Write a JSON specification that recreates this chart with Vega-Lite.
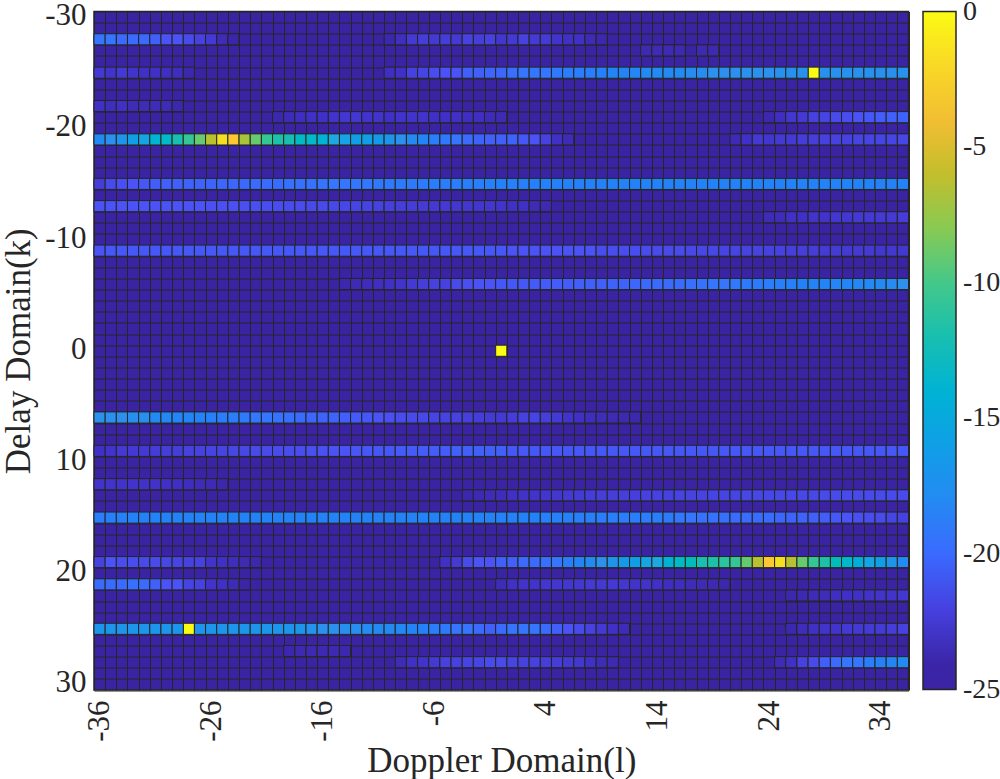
{"$schema":"https://vega.github.io/schema/vega-lite/v6.json","autosize":{"type":"none"},"padding":{"left":94,"top":11.5,"right":91,"bottom":89},"width":814.5,"height":678.5,"background":"white",
"data":{"values":[
{"k":0,"l":0,"v":0},
{"k":-25,"l":28,"v":0},{"k":25,"l":-28,"v":0},
{"k":-28,"l":-36,"v":-19.5},{"k":-28,"l":-35,"v":-19.5},{"k":-28,"l":-34,"v":-20},{"k":-28,"l":-33,"v":-20},{"k":-28,"l":-32,"v":-20},{"k":-28,"l":-31,"v":-20.5},{"k":-28,"l":-30,"v":-21},{"k":-28,"l":-29,"v":-21},{"k":-28,"l":-28,"v":-21.5},{"k":-28,"l":-27,"v":-22},{"k":-28,"l":-26,"v":-22.5},{"k":-28,"l":-25,"v":-23.5},{"k":-28,"l":-24,"v":-24},
{"k":-28,"l":-10,"v":-23.8},{"k":-28,"l":-9,"v":-23.2},{"k":-28,"l":-8,"v":-22.5},{"k":-28,"l":-7,"v":-22.3},{"k":-28,"l":-6,"v":-22.5},{"k":-28,"l":-5,"v":-22.3},{"k":-28,"l":-4,"v":-22.5},{"k":-28,"l":-3,"v":-22},{"k":-28,"l":-2,"v":-22.2},{"k":-28,"l":-1,"v":-22},{"k":-28,"l":0,"v":-22.7},{"k":-28,"l":1,"v":-22.5},{"k":-28,"l":2,"v":-22},{"k":-28,"l":3,"v":-22.4},{"k":-28,"l":4,"v":-22.4},{"k":-28,"l":5,"v":-22.8},{"k":-28,"l":6,"v":-23},{"k":-28,"l":7,"v":-23},{"k":-28,"l":8,"v":-23.6},{"k":-28,"l":9,"v":-23.8},
{"k":-27,"l":13,"v":-23.7},{"k":-27,"l":14,"v":-23.6},{"k":-27,"l":15,"v":-23.6},{"k":-27,"l":16,"v":-23.7},{"k":-27,"l":18,"v":-23.7},{"k":-27,"l":19,"v":-23.7},
{"k":-25,"l":-36,"v":-22.5},{"k":-25,"l":-35,"v":-22.8},{"k":-25,"l":-34,"v":-22.5},{"k":-25,"l":-33,"v":-22.8},{"k":-25,"l":-32,"v":-23},{"k":-25,"l":-31,"v":-23},{"k":-25,"l":-30,"v":-23.2},{"k":-25,"l":-29,"v":-23.3},{"k":-25,"l":-28,"v":-23.8},
{"k":-25,"l":-10,"v":-23.2},{"k":-25,"l":-9,"v":-23},{"k":-25,"l":-8,"v":-22},{"k":-25,"l":-7,"v":-21.8},{"k":-25,"l":-6,"v":-21.3},{"k":-25,"l":-5,"v":-21},{"k":-25,"l":-4,"v":-21},{"k":-25,"l":-3,"v":-20.5},{"k":-25,"l":-2,"v":-20.5},{"k":-25,"l":-1,"v":-20.2},{"k":-25,"l":0,"v":-20.2},{"k":-25,"l":1,"v":-19.8},{"k":-25,"l":2,"v":-19.5},{"k":-25,"l":3,"v":-19.5},{"k":-25,"l":4,"v":-19.5},{"k":-25,"l":5,"v":-19.3},{"k":-25,"l":6,"v":-19},{"k":-25,"l":7,"v":-19},{"k":-25,"l":8,"v":-19},{"k":-25,"l":9,"v":-18.8},{"k":-25,"l":10,"v":-18.5},{"k":-25,"l":11,"v":-18.5},{"k":-25,"l":12,"v":-18.2},{"k":-25,"l":13,"v":-18},{"k":-25,"l":14,"v":-18},{"k":-25,"l":15,"v":-18},{"k":-25,"l":16,"v":-18},{"k":-25,"l":17,"v":-17.8},{"k":-25,"l":18,"v":-17.8},{"k":-25,"l":19,"v":-17.5},{"k":-25,"l":20,"v":-17.5},{"k":-25,"l":21,"v":-17.5},{"k":-25,"l":22,"v":-17.5},{"k":-25,"l":23,"v":-17.5},{"k":-25,"l":24,"v":-17.5},{"k":-25,"l":25,"v":-17.3},{"k":-25,"l":26,"v":-17.3},{"k":-25,"l":27,"v":-17.3},{"k":-25,"l":29,"v":-17.3},{"k":-25,"l":30,"v":-17.3},{"k":-25,"l":31,"v":-17.3},{"k":-25,"l":32,"v":-17.3},{"k":-25,"l":33,"v":-17.3},{"k":-25,"l":34,"v":-17.3},{"k":-25,"l":35,"v":-17.3},{"k":-25,"l":36,"v":-17.3},
{"k":-22,"l":-36,"v":-23},{"k":-22,"l":-35,"v":-23.3},{"k":-22,"l":-34,"v":-23},{"k":-22,"l":-33,"v":-23.5},{"k":-22,"l":-32,"v":-23.5},{"k":-22,"l":-31,"v":-23.5},{"k":-22,"l":-30,"v":-23.5},{"k":-22,"l":-29,"v":-23.8},
{"k":-21,"l":-20,"v":-23.8},{"k":-21,"l":-19,"v":-23.5},{"k":-21,"l":-18,"v":-23.2},{"k":-21,"l":-17,"v":-23},{"k":-21,"l":-16,"v":-23},{"k":-21,"l":-15,"v":-22.8},{"k":-21,"l":-14,"v":-22.6},{"k":-21,"l":-13,"v":-22.6},{"k":-21,"l":-12,"v":-22.8},{"k":-21,"l":-11,"v":-22.8},{"k":-21,"l":-10,"v":-23},{"k":-21,"l":-9,"v":-22.8},{"k":-21,"l":-8,"v":-22.8},{"k":-21,"l":-7,"v":-22.8},{"k":-21,"l":-6,"v":-23},{"k":-21,"l":-5,"v":-23},{"k":-21,"l":-4,"v":-23},{"k":-21,"l":-3,"v":-23.2},{"k":-21,"l":-2,"v":-23.2},{"k":-21,"l":-1,"v":-23.5},{"k":-21,"l":0,"v":-23.6},
{"k":-21,"l":24,"v":-23.8},{"k":-21,"l":25,"v":-23.2},{"k":-21,"l":26,"v":-22.6},{"k":-21,"l":27,"v":-22.5},{"k":-21,"l":28,"v":-22},{"k":-21,"l":29,"v":-21.8},{"k":-21,"l":30,"v":-21.5},{"k":-21,"l":31,"v":-21.3},{"k":-21,"l":32,"v":-21},{"k":-21,"l":33,"v":-20.8},{"k":-21,"l":34,"v":-20.6},{"k":-21,"l":35,"v":-20.5},{"k":-21,"l":36,"v":-20.3},
{"k":-19,"l":-36,"v":-18},{"k":-19,"l":-35,"v":-17.5},{"k":-19,"l":-34,"v":-17},{"k":-19,"l":-33,"v":-16},{"k":-19,"l":-32,"v":-15.5},{"k":-19,"l":-31,"v":-13.8},{"k":-19,"l":-30,"v":-13.3},{"k":-19,"l":-29,"v":-12},{"k":-19,"l":-28,"v":-10.5},{"k":-19,"l":-27,"v":-9},{"k":-19,"l":-26,"v":-6.5},{"k":-19,"l":-25,"v":-1.5},{"k":-19,"l":-24,"v":-3},{"k":-19,"l":-23,"v":-7},{"k":-19,"l":-22,"v":-9},{"k":-19,"l":-21,"v":-10.5},{"k":-19,"l":-20,"v":-11.5},{"k":-19,"l":-19,"v":-12},{"k":-19,"l":-18,"v":-13},{"k":-19,"l":-17,"v":-13.3},{"k":-19,"l":-16,"v":-14},{"k":-19,"l":-15,"v":-15},{"k":-19,"l":-14,"v":-15.5},{"k":-19,"l":-13,"v":-16},{"k":-19,"l":-12,"v":-16},{"k":-19,"l":-11,"v":-16.5},{"k":-19,"l":-10,"v":-17},{"k":-19,"l":-9,"v":-17.5},{"k":-19,"l":-8,"v":-18},{"k":-19,"l":-7,"v":-18.5},{"k":-19,"l":-6,"v":-19},{"k":-19,"l":-5,"v":-19.3},{"k":-19,"l":-4,"v":-19.5},{"k":-19,"l":-3,"v":-20},{"k":-19,"l":-2,"v":-20.3},{"k":-19,"l":-1,"v":-20.5},{"k":-19,"l":0,"v":-20.5},{"k":-19,"l":1,"v":-20.3},{"k":-19,"l":2,"v":-20.8},{"k":-19,"l":3,"v":-21},{"k":-19,"l":4,"v":-22},{"k":-19,"l":5,"v":-23},{"k":-19,"l":6,"v":-23.5},
{"k":-19,"l":21,"v":-23.6},{"k":-19,"l":22,"v":-23},{"k":-19,"l":23,"v":-22.5},{"k":-19,"l":24,"v":-22.7},{"k":-19,"l":25,"v":-22.5},{"k":-19,"l":26,"v":-22.5},{"k":-19,"l":27,"v":-22.3},{"k":-19,"l":28,"v":-22.2},{"k":-19,"l":29,"v":-22},{"k":-19,"l":30,"v":-22},{"k":-19,"l":31,"v":-22},{"k":-19,"l":32,"v":-21.8},{"k":-19,"l":33,"v":-21.8},{"k":-19,"l":34,"v":-21.8},{"k":-19,"l":35,"v":-21.8},{"k":-19,"l":36,"v":-21.7},
{"k":-15,"l":-36,"v":-22.3},{"k":-15,"l":-35,"v":-21.5},{"k":-15,"l":-34,"v":-21.2},{"k":-15,"l":-33,"v":-21},{"k":-15,"l":-32,"v":-20.8},{"k":-15,"l":-31,"v":-20.6},{"k":-15,"l":-30,"v":-20.5},{"k":-15,"l":-29,"v":-20.5},{"k":-15,"l":-28,"v":-20.4},{"k":-15,"l":-27,"v":-20.3},{"k":-15,"l":-26,"v":-20.3},{"k":-15,"l":-25,"v":-20.2},{"k":-15,"l":-24,"v":-20.2},{"k":-15,"l":-23,"v":-20.1},{"k":-15,"l":-22,"v":-20},{"k":-15,"l":-21,"v":-20},{"k":-15,"l":-20,"v":-19.9},{"k":-15,"l":-19,"v":-19.8},{"k":-15,"l":-18,"v":-19.8},{"k":-15,"l":-17,"v":-19.7},{"k":-15,"l":-16,"v":-19.6},{"k":-15,"l":-15,"v":-19.5},{"k":-15,"l":-14,"v":-19.5},{"k":-15,"l":-13,"v":-19.4},{"k":-15,"l":-12,"v":-19.4},{"k":-15,"l":-11,"v":-19.3},{"k":-15,"l":-10,"v":-19.3},{"k":-15,"l":-9,"v":-19.2},{"k":-15,"l":-8,"v":-19.2},{"k":-15,"l":-7,"v":-19.1},{"k":-15,"l":-6,"v":-19},{"k":-15,"l":-5,"v":-19},{"k":-15,"l":-4,"v":-19},{"k":-15,"l":-3,"v":-18.9},{"k":-15,"l":-2,"v":-18.9},{"k":-15,"l":-1,"v":-18.8},{"k":-15,"l":0,"v":-18.8},{"k":-15,"l":1,"v":-18.8},{"k":-15,"l":2,"v":-18.8},{"k":-15,"l":3,"v":-18.8},{"k":-15,"l":4,"v":-18.7},{"k":-15,"l":5,"v":-18.7},{"k":-15,"l":6,"v":-18.7},{"k":-15,"l":7,"v":-18.7},{"k":-15,"l":8,"v":-18.7},{"k":-15,"l":9,"v":-18.7},{"k":-15,"l":10,"v":-18.6},{"k":-15,"l":11,"v":-18.6},{"k":-15,"l":12,"v":-18.6},{"k":-15,"l":13,"v":-18.6},{"k":-15,"l":14,"v":-18.6},{"k":-15,"l":15,"v":-18.6},{"k":-15,"l":16,"v":-18.6},{"k":-15,"l":17,"v":-18.6},{"k":-15,"l":18,"v":-18.6},{"k":-15,"l":19,"v":-18.6},{"k":-15,"l":20,"v":-18.6},{"k":-15,"l":21,"v":-18.6},{"k":-15,"l":22,"v":-18.6},{"k":-15,"l":23,"v":-18.6},{"k":-15,"l":24,"v":-18.6},{"k":-15,"l":25,"v":-18.6},{"k":-15,"l":26,"v":-18.6},{"k":-15,"l":27,"v":-18.6},{"k":-15,"l":28,"v":-18.6},{"k":-15,"l":29,"v":-18.6},{"k":-15,"l":30,"v":-18.6},{"k":-15,"l":31,"v":-18.6},{"k":-15,"l":32,"v":-18.6},{"k":-15,"l":33,"v":-18.6},{"k":-15,"l":34,"v":-18.6},{"k":-15,"l":35,"v":-18.6},{"k":-15,"l":36,"v":-18.6},
{"k":-13,"l":-36,"v":-21},{"k":-13,"l":-35,"v":-21},{"k":-13,"l":-34,"v":-21},{"k":-13,"l":-33,"v":-21},{"k":-13,"l":-32,"v":-21},{"k":-13,"l":-31,"v":-21},{"k":-13,"l":-30,"v":-21},{"k":-13,"l":-29,"v":-21},{"k":-13,"l":-28,"v":-21},{"k":-13,"l":-27,"v":-21},{"k":-13,"l":-26,"v":-21.1},{"k":-13,"l":-25,"v":-21.1},{"k":-13,"l":-24,"v":-21.1},{"k":-13,"l":-23,"v":-21.2},{"k":-13,"l":-22,"v":-21.2},{"k":-13,"l":-21,"v":-21.3},{"k":-13,"l":-20,"v":-21.3},{"k":-13,"l":-19,"v":-21.4},{"k":-13,"l":-18,"v":-21.4},{"k":-13,"l":-17,"v":-21.5},{"k":-13,"l":-16,"v":-21.5},{"k":-13,"l":-15,"v":-21.6},{"k":-13,"l":-14,"v":-21.7},{"k":-13,"l":-13,"v":-21.8},{"k":-13,"l":-12,"v":-21.9},{"k":-13,"l":-11,"v":-22},{"k":-13,"l":-10,"v":-22.1},{"k":-13,"l":-9,"v":-22.2},{"k":-13,"l":-8,"v":-22.3},{"k":-13,"l":-7,"v":-22.4},{"k":-13,"l":-6,"v":-22.5},{"k":-13,"l":-5,"v":-22.5},{"k":-13,"l":-4,"v":-22.6},{"k":-13,"l":-3,"v":-22.6},{"k":-13,"l":-2,"v":-22.7},{"k":-13,"l":-1,"v":-22.7},{"k":-13,"l":0,"v":-22.8},{"k":-13,"l":1,"v":-23},{"k":-13,"l":2,"v":-23},{"k":-13,"l":3,"v":-23.5},{"k":-13,"l":4,"v":-23.7},
{"k":-12,"l":24,"v":-23.5},{"k":-12,"l":25,"v":-23.4},{"k":-12,"l":26,"v":-23},{"k":-12,"l":27,"v":-23},{"k":-12,"l":28,"v":-22.8},{"k":-12,"l":29,"v":-22.8},{"k":-12,"l":30,"v":-22.6},{"k":-12,"l":31,"v":-22.6},{"k":-12,"l":32,"v":-22.5},{"k":-12,"l":33,"v":-22.5},{"k":-12,"l":34,"v":-22.5},{"k":-12,"l":35,"v":-22.5},{"k":-12,"l":36,"v":-22.3},
{"k":-9,"l":-36,"v":-21},{"k":-9,"l":-35,"v":-20.8},{"k":-9,"l":-34,"v":-20.8},{"k":-9,"l":-33,"v":-20.8},{"k":-9,"l":-32,"v":-20.8},{"k":-9,"l":-31,"v":-20.8},{"k":-9,"l":-30,"v":-20.8},{"k":-9,"l":-29,"v":-20.8},{"k":-9,"l":-28,"v":-20.8},{"k":-9,"l":-27,"v":-20.8},{"k":-9,"l":-26,"v":-20.8},{"k":-9,"l":-25,"v":-20.8},{"k":-9,"l":-24,"v":-20.8},{"k":-9,"l":-23,"v":-20.8},{"k":-9,"l":-22,"v":-20.8},{"k":-9,"l":-21,"v":-20.8},{"k":-9,"l":-20,"v":-20.8},{"k":-9,"l":-19,"v":-20.8},{"k":-9,"l":-18,"v":-20.8},{"k":-9,"l":-17,"v":-20.8},{"k":-9,"l":-16,"v":-20.8},{"k":-9,"l":-15,"v":-20.8},{"k":-9,"l":-14,"v":-20.8},{"k":-9,"l":-13,"v":-20.8},{"k":-9,"l":-12,"v":-20.8},{"k":-9,"l":-11,"v":-20.8},{"k":-9,"l":-10,"v":-20.8},{"k":-9,"l":-9,"v":-20.8},{"k":-9,"l":-8,"v":-20.8},{"k":-9,"l":-7,"v":-20.8},{"k":-9,"l":-6,"v":-20.8},{"k":-9,"l":-5,"v":-20.8},{"k":-9,"l":-4,"v":-20.8},{"k":-9,"l":-3,"v":-20.8},{"k":-9,"l":-2,"v":-20.8},{"k":-9,"l":-1,"v":-20.8},{"k":-9,"l":0,"v":-20.8},{"k":-9,"l":1,"v":-21},{"k":-9,"l":2,"v":-21},{"k":-9,"l":3,"v":-21},{"k":-9,"l":4,"v":-21},{"k":-9,"l":5,"v":-21},{"k":-9,"l":6,"v":-21},{"k":-9,"l":7,"v":-21},{"k":-9,"l":8,"v":-21},{"k":-9,"l":9,"v":-21.3},{"k":-9,"l":10,"v":-21.3},{"k":-9,"l":11,"v":-21.3},{"k":-9,"l":12,"v":-21.3},{"k":-9,"l":13,"v":-21.4},{"k":-9,"l":14,"v":-21.5},{"k":-9,"l":15,"v":-21.5},{"k":-9,"l":16,"v":-21.5},{"k":-9,"l":17,"v":-21.6},{"k":-9,"l":18,"v":-21.7},{"k":-9,"l":19,"v":-21.7},{"k":-9,"l":20,"v":-21.8},{"k":-9,"l":21,"v":-21.8},{"k":-9,"l":22,"v":-21.9},{"k":-9,"l":23,"v":-21.9},{"k":-9,"l":24,"v":-22},{"k":-9,"l":25,"v":-22},{"k":-9,"l":26,"v":-22.1},{"k":-9,"l":27,"v":-22.2},{"k":-9,"l":28,"v":-22.3},{"k":-9,"l":29,"v":-22.4},{"k":-9,"l":30,"v":-22.4},{"k":-9,"l":31,"v":-22.5},{"k":-9,"l":32,"v":-22.5},{"k":-9,"l":33,"v":-22.5},{"k":-9,"l":34,"v":-22.6},{"k":-9,"l":35,"v":-22.6},{"k":-9,"l":36,"v":-22.6},
{"k":-6,"l":-14,"v":-23.8},{"k":-6,"l":-13,"v":-23.6},{"k":-6,"l":-12,"v":-23.4},{"k":-6,"l":-11,"v":-23.2},{"k":-6,"l":-10,"v":-23},{"k":-6,"l":-9,"v":-22.8},{"k":-6,"l":-8,"v":-22.5},{"k":-6,"l":-7,"v":-22.2},{"k":-6,"l":-6,"v":-22},{"k":-6,"l":-5,"v":-22},{"k":-6,"l":-4,"v":-21.5},{"k":-6,"l":-3,"v":-21.2},{"k":-6,"l":-2,"v":-21},{"k":-6,"l":-1,"v":-21},{"k":-6,"l":0,"v":-20.8},{"k":-6,"l":1,"v":-20.8},{"k":-6,"l":2,"v":-20.8},{"k":-6,"l":3,"v":-20.7},{"k":-6,"l":4,"v":-20.7},{"k":-6,"l":5,"v":-20.6},{"k":-6,"l":6,"v":-20.6},{"k":-6,"l":7,"v":-20.5},{"k":-6,"l":8,"v":-20.5},{"k":-6,"l":9,"v":-20.5},{"k":-6,"l":10,"v":-20.3},{"k":-6,"l":11,"v":-20.3},{"k":-6,"l":12,"v":-20.2},{"k":-6,"l":13,"v":-20.1},{"k":-6,"l":14,"v":-20},{"k":-6,"l":15,"v":-20},{"k":-6,"l":16,"v":-19.9},{"k":-6,"l":17,"v":-19.8},{"k":-6,"l":18,"v":-19.7},{"k":-6,"l":19,"v":-19.5},{"k":-6,"l":20,"v":-19.5},{"k":-6,"l":21,"v":-19.3},{"k":-6,"l":22,"v":-19.2},{"k":-6,"l":23,"v":-19.1},{"k":-6,"l":24,"v":-19},{"k":-6,"l":25,"v":-18.9},{"k":-6,"l":26,"v":-18.8},{"k":-6,"l":27,"v":-18.7},{"k":-6,"l":28,"v":-18.6},{"k":-6,"l":29,"v":-18.5},{"k":-6,"l":30,"v":-18.4},{"k":-6,"l":31,"v":-18.3},{"k":-6,"l":32,"v":-18.2},{"k":-6,"l":33,"v":-18.1},{"k":-6,"l":34,"v":-18},{"k":-6,"l":35,"v":-17.8},{"k":-6,"l":36,"v":-17.5},
{"k":6,"l":-36,"v":-17.5},{"k":6,"l":-35,"v":-17.5},{"k":6,"l":-34,"v":-17.5},{"k":6,"l":-33,"v":-17.7},{"k":6,"l":-32,"v":-17.7},{"k":6,"l":-31,"v":-18},{"k":6,"l":-30,"v":-18.2},{"k":6,"l":-29,"v":-18.4},{"k":6,"l":-28,"v":-18.5},{"k":6,"l":-27,"v":-18.6},{"k":6,"l":-26,"v":-18.8},{"k":6,"l":-25,"v":-19},{"k":6,"l":-24,"v":-19},{"k":6,"l":-23,"v":-19.2},{"k":6,"l":-22,"v":-19.4},{"k":6,"l":-21,"v":-19.5},{"k":6,"l":-20,"v":-19.7},{"k":6,"l":-19,"v":-19.8},{"k":6,"l":-18,"v":-20},{"k":6,"l":-17,"v":-20.2},{"k":6,"l":-16,"v":-20.3},{"k":6,"l":-15,"v":-20.4},{"k":6,"l":-14,"v":-20.5},{"k":6,"l":-13,"v":-20.7},{"k":6,"l":-12,"v":-20.8},{"k":6,"l":-11,"v":-21},{"k":6,"l":-10,"v":-21.2},{"k":6,"l":-9,"v":-21.4},{"k":6,"l":-8,"v":-21.5},{"k":6,"l":-7,"v":-21.6},{"k":6,"l":-6,"v":-21.8},{"k":6,"l":-5,"v":-21.9},{"k":6,"l":-4,"v":-22},{"k":6,"l":-3,"v":-22.1},{"k":6,"l":-2,"v":-22.3},{"k":6,"l":-1,"v":-22.4},{"k":6,"l":0,"v":-22.5},{"k":6,"l":1,"v":-22.3},{"k":6,"l":2,"v":-22},{"k":6,"l":3,"v":-21.8},{"k":6,"l":4,"v":-22.2},{"k":6,"l":5,"v":-22.5},{"k":6,"l":6,"v":-22.8},{"k":6,"l":7,"v":-23},{"k":6,"l":8,"v":-23.3},{"k":6,"l":9,"v":-23.4},{"k":6,"l":10,"v":-23.6},{"k":6,"l":11,"v":-23.7},{"k":6,"l":12,"v":-23.8},
{"k":9,"l":-36,"v":-23},{"k":9,"l":-35,"v":-22.8},{"k":9,"l":-34,"v":-22.5},{"k":9,"l":-33,"v":-22.5},{"k":9,"l":-32,"v":-22.5},{"k":9,"l":-31,"v":-22.3},{"k":9,"l":-30,"v":-22.2},{"k":9,"l":-29,"v":-22.2},{"k":9,"l":-28,"v":-22},{"k":9,"l":-27,"v":-22},{"k":9,"l":-26,"v":-21.8},{"k":9,"l":-25,"v":-21.8},{"k":9,"l":-24,"v":-21.7},{"k":9,"l":-23,"v":-21.6},{"k":9,"l":-22,"v":-21.5},{"k":9,"l":-21,"v":-21.5},{"k":9,"l":-20,"v":-21.4},{"k":9,"l":-19,"v":-21.3},{"k":9,"l":-18,"v":-21.3},{"k":9,"l":-17,"v":-21.2},{"k":9,"l":-16,"v":-21.1},{"k":9,"l":-15,"v":-21},{"k":9,"l":-14,"v":-21},{"k":9,"l":-13,"v":-20.9},{"k":9,"l":-12,"v":-20.9},{"k":9,"l":-11,"v":-20.8},{"k":9,"l":-10,"v":-20.8},{"k":9,"l":-9,"v":-20.7},{"k":9,"l":-8,"v":-20.7},{"k":9,"l":-7,"v":-20.6},{"k":9,"l":-6,"v":-20.6},{"k":9,"l":-5,"v":-20.6},{"k":9,"l":-4,"v":-20.5},{"k":9,"l":-3,"v":-20.5},{"k":9,"l":-2,"v":-20.5},{"k":9,"l":-1,"v":-20.5},{"k":9,"l":0,"v":-20.5},{"k":9,"l":1,"v":-20.8},{"k":9,"l":2,"v":-20.8},{"k":9,"l":3,"v":-20.8},{"k":9,"l":4,"v":-20.8},{"k":9,"l":5,"v":-20.8},{"k":9,"l":6,"v":-20.8},{"k":9,"l":7,"v":-20.8},{"k":9,"l":8,"v":-20.8},{"k":9,"l":9,"v":-20.8},{"k":9,"l":10,"v":-20.8},{"k":9,"l":11,"v":-20.8},{"k":9,"l":12,"v":-20.8},{"k":9,"l":13,"v":-20.8},{"k":9,"l":14,"v":-20.8},{"k":9,"l":15,"v":-20.8},{"k":9,"l":16,"v":-20.8},{"k":9,"l":17,"v":-20.8},{"k":9,"l":18,"v":-20.8},{"k":9,"l":19,"v":-20.8},{"k":9,"l":20,"v":-20.8},{"k":9,"l":21,"v":-20.8},{"k":9,"l":22,"v":-20.8},{"k":9,"l":23,"v":-20.8},{"k":9,"l":24,"v":-20.8},{"k":9,"l":25,"v":-20.8},{"k":9,"l":26,"v":-20.8},{"k":9,"l":27,"v":-20.8},{"k":9,"l":28,"v":-20.8},{"k":9,"l":29,"v":-20.8},{"k":9,"l":30,"v":-20.8},{"k":9,"l":31,"v":-20.8},{"k":9,"l":32,"v":-20.8},{"k":9,"l":33,"v":-20.8},{"k":9,"l":34,"v":-20.8},{"k":9,"l":35,"v":-20.8},{"k":9,"l":36,"v":-20.8},
{"k":12,"l":-36,"v":-22.8},{"k":12,"l":-35,"v":-22.8},{"k":12,"l":-34,"v":-22.8},{"k":12,"l":-33,"v":-22.8},{"k":12,"l":-32,"v":-22.9},{"k":12,"l":-31,"v":-22.9},{"k":12,"l":-30,"v":-23},{"k":12,"l":-29,"v":-23.1},{"k":12,"l":-28,"v":-23.3},{"k":12,"l":-27,"v":-23.5},{"k":12,"l":-26,"v":-23.6},{"k":12,"l":-25,"v":-23.8},
{"k":13,"l":-3,"v":-23.8},{"k":13,"l":-2,"v":-23.7},{"k":13,"l":-1,"v":-23.5},{"k":13,"l":0,"v":-23.4},{"k":13,"l":1,"v":-23},{"k":13,"l":2,"v":-22.9},{"k":13,"l":3,"v":-22.8},{"k":13,"l":4,"v":-22.7},{"k":13,"l":5,"v":-22.6},{"k":13,"l":6,"v":-22.5},{"k":13,"l":7,"v":-22.4},{"k":13,"l":8,"v":-22.3},{"k":13,"l":9,"v":-22.2},{"k":13,"l":10,"v":-22.2},{"k":13,"l":11,"v":-22.1},{"k":13,"l":12,"v":-22.1},{"k":13,"l":13,"v":-22},{"k":13,"l":14,"v":-22},{"k":13,"l":15,"v":-22},{"k":13,"l":16,"v":-21.9},{"k":13,"l":17,"v":-21.9},{"k":13,"l":18,"v":-21.9},{"k":13,"l":19,"v":-21.8},{"k":13,"l":20,"v":-21.8},{"k":13,"l":21,"v":-21.8},{"k":13,"l":22,"v":-21.7},{"k":13,"l":23,"v":-21.7},{"k":13,"l":24,"v":-21.7},{"k":13,"l":25,"v":-21.6},{"k":13,"l":26,"v":-21.6},{"k":13,"l":27,"v":-21.6},{"k":13,"l":28,"v":-21.6},{"k":13,"l":29,"v":-21.5},{"k":13,"l":30,"v":-21.5},{"k":13,"l":31,"v":-21.5},{"k":13,"l":32,"v":-21.5},{"k":13,"l":33,"v":-21.5},{"k":13,"l":34,"v":-21.5},{"k":13,"l":35,"v":-21.5},{"k":13,"l":36,"v":-21.5},
{"k":15,"l":-36,"v":-19},{"k":15,"l":-35,"v":-18.8},{"k":15,"l":-34,"v":-18.8},{"k":15,"l":-33,"v":-18.7},{"k":15,"l":-32,"v":-18.7},{"k":15,"l":-31,"v":-18.6},{"k":15,"l":-30,"v":-18.6},{"k":15,"l":-29,"v":-18.6},{"k":15,"l":-28,"v":-18.6},{"k":15,"l":-27,"v":-18.6},{"k":15,"l":-26,"v":-18.6},{"k":15,"l":-25,"v":-18.6},{"k":15,"l":-24,"v":-18.6},{"k":15,"l":-23,"v":-18.6},{"k":15,"l":-22,"v":-18.6},{"k":15,"l":-21,"v":-18.6},{"k":15,"l":-20,"v":-18.6},{"k":15,"l":-19,"v":-18.6},{"k":15,"l":-18,"v":-18.6},{"k":15,"l":-17,"v":-18.6},{"k":15,"l":-16,"v":-18.6},{"k":15,"l":-15,"v":-18.6},{"k":15,"l":-14,"v":-18.6},{"k":15,"l":-13,"v":-18.6},{"k":15,"l":-12,"v":-18.6},{"k":15,"l":-11,"v":-18.6},{"k":15,"l":-10,"v":-18.6},{"k":15,"l":-9,"v":-18.6},{"k":15,"l":-8,"v":-18.6},{"k":15,"l":-7,"v":-18.6},{"k":15,"l":-6,"v":-18.6},{"k":15,"l":-5,"v":-18.6},{"k":15,"l":-4,"v":-18.6},{"k":15,"l":-3,"v":-18.6},{"k":15,"l":-2,"v":-18.6},{"k":15,"l":-1,"v":-18.6},{"k":15,"l":0,"v":-18.7},{"k":15,"l":1,"v":-18.7},{"k":15,"l":2,"v":-18.7},{"k":15,"l":3,"v":-18.7},{"k":15,"l":4,"v":-18.8},{"k":15,"l":5,"v":-18.8},{"k":15,"l":6,"v":-18.8},{"k":15,"l":7,"v":-18.9},{"k":15,"l":8,"v":-18.9},{"k":15,"l":9,"v":-19},{"k":15,"l":10,"v":-19},{"k":15,"l":11,"v":-19},{"k":15,"l":12,"v":-19},{"k":15,"l":13,"v":-19},{"k":15,"l":14,"v":-19},{"k":15,"l":15,"v":-19.2},{"k":15,"l":16,"v":-19.4},{"k":15,"l":17,"v":-19.5},{"k":15,"l":18,"v":-19.7},{"k":15,"l":19,"v":-19.7},{"k":15,"l":20,"v":-19.8},{"k":15,"l":21,"v":-19.9},{"k":15,"l":22,"v":-20},{"k":15,"l":23,"v":-20},{"k":15,"l":24,"v":-20},{"k":15,"l":25,"v":-20.2},{"k":15,"l":26,"v":-20.3},{"k":15,"l":27,"v":-20.4},{"k":15,"l":28,"v":-20.5},{"k":15,"l":29,"v":-20.6},{"k":15,"l":30,"v":-20.8},{"k":15,"l":31,"v":-21},{"k":15,"l":32,"v":-21.2},{"k":15,"l":33,"v":-21.3},{"k":15,"l":34,"v":-21.5},{"k":15,"l":35,"v":-21.8},{"k":15,"l":36,"v":-22},
{"k":19,"l":-36,"v":-22},{"k":19,"l":-35,"v":-21},{"k":19,"l":-34,"v":-21.3},{"k":19,"l":-33,"v":-21.3},{"k":19,"l":-32,"v":-21.5},{"k":19,"l":-31,"v":-21.5},{"k":19,"l":-30,"v":-21.7},{"k":19,"l":-29,"v":-21.8},{"k":19,"l":-28,"v":-22},{"k":19,"l":-27,"v":-22},{"k":19,"l":-26,"v":-22.8},{"k":19,"l":-25,"v":-23},{"k":19,"l":-24,"v":-23.3},{"k":19,"l":-23,"v":-23.6},{"k":19,"l":-22,"v":-23.8},
{"k":19,"l":-5,"v":-23},{"k":19,"l":-4,"v":-22.5},{"k":19,"l":-3,"v":-21.5},{"k":19,"l":-2,"v":-21},{"k":19,"l":-1,"v":-21},{"k":19,"l":0,"v":-20.5},{"k":19,"l":1,"v":-20.5},{"k":19,"l":2,"v":-20},{"k":19,"l":3,"v":-20},{"k":19,"l":4,"v":-19.8},{"k":19,"l":5,"v":-19.5},{"k":19,"l":6,"v":-19},{"k":19,"l":7,"v":-18.5},{"k":19,"l":8,"v":-18},{"k":19,"l":9,"v":-17.5},{"k":19,"l":10,"v":-17},{"k":19,"l":11,"v":-16.5},{"k":19,"l":12,"v":-16},{"k":19,"l":13,"v":-15.5},{"k":19,"l":14,"v":-15},{"k":19,"l":15,"v":-14},{"k":19,"l":16,"v":-13},{"k":19,"l":17,"v":-12.5},{"k":19,"l":18,"v":-12},{"k":19,"l":19,"v":-11.5},{"k":19,"l":20,"v":-11},{"k":19,"l":21,"v":-10.5},{"k":19,"l":22,"v":-9},{"k":19,"l":23,"v":-6.5},{"k":19,"l":24,"v":-3},{"k":19,"l":25,"v":-1.5},{"k":19,"l":26,"v":-6.5},{"k":19,"l":27,"v":-9},{"k":19,"l":28,"v":-10.5},{"k":19,"l":29,"v":-11.5},{"k":19,"l":30,"v":-12.5},{"k":19,"l":31,"v":-13.5},{"k":19,"l":32,"v":-14.5},{"k":19,"l":33,"v":-15.5},{"k":19,"l":34,"v":-16},{"k":19,"l":35,"v":-17},{"k":19,"l":36,"v":-18},
{"k":21,"l":-36,"v":-20},{"k":21,"l":-35,"v":-20},{"k":21,"l":-34,"v":-20},{"k":21,"l":-33,"v":-19.8},{"k":21,"l":-32,"v":-20},{"k":21,"l":-31,"v":-20.5},{"k":21,"l":-30,"v":-21},{"k":21,"l":-29,"v":-21},{"k":21,"l":-28,"v":-21.8},{"k":21,"l":-27,"v":-22},{"k":21,"l":-26,"v":-22.8},{"k":21,"l":-25,"v":-23},{"k":21,"l":-24,"v":-23.5},{"k":21,"l":-23,"v":-24},
{"k":21,"l":0,"v":-23.5},{"k":21,"l":1,"v":-23},{"k":21,"l":2,"v":-22.8},{"k":21,"l":3,"v":-22.8},{"k":21,"l":4,"v":-22.7},{"k":21,"l":5,"v":-22.7},{"k":21,"l":6,"v":-22.6},{"k":21,"l":7,"v":-22.6},{"k":21,"l":8,"v":-22.5},{"k":21,"l":9,"v":-22.5},{"k":21,"l":10,"v":-22.5},{"k":21,"l":11,"v":-22.6},{"k":21,"l":12,"v":-22.8},{"k":21,"l":13,"v":-22.9},{"k":21,"l":14,"v":-23},{"k":21,"l":15,"v":-23.2},{"k":21,"l":16,"v":-23.3},{"k":21,"l":17,"v":-23.5},{"k":21,"l":18,"v":-23.6},{"k":21,"l":19,"v":-23.7},{"k":21,"l":20,"v":-23.8},
{"k":22,"l":26,"v":-23.8},{"k":22,"l":27,"v":-23.7},{"k":22,"l":28,"v":-23.5},{"k":22,"l":29,"v":-23.4},{"k":22,"l":30,"v":-23.2},{"k":22,"l":31,"v":-23},{"k":22,"l":32,"v":-23},{"k":22,"l":33,"v":-22.9},{"k":22,"l":34,"v":-22.8},{"k":22,"l":35,"v":-22.8},{"k":22,"l":36,"v":-22.6},
{"k":25,"l":-36,"v":-17},{"k":25,"l":-35,"v":-17},{"k":25,"l":-34,"v":-17},{"k":25,"l":-33,"v":-17},{"k":25,"l":-32,"v":-17},{"k":25,"l":-31,"v":-17},{"k":25,"l":-30,"v":-17},{"k":25,"l":-29,"v":-17},{"k":25,"l":-27,"v":-17},{"k":25,"l":-26,"v":-17},{"k":25,"l":-25,"v":-17},{"k":25,"l":-24,"v":-17},{"k":25,"l":-23,"v":-17},{"k":25,"l":-22,"v":-17},{"k":25,"l":-21,"v":-17},{"k":25,"l":-20,"v":-17},{"k":25,"l":-19,"v":-17},{"k":25,"l":-18,"v":-17},{"k":25,"l":-17,"v":-17.2},{"k":25,"l":-16,"v":-17.5},{"k":25,"l":-15,"v":-17.5},{"k":25,"l":-14,"v":-17.6},{"k":25,"l":-13,"v":-17.7},{"k":25,"l":-12,"v":-17.8},{"k":25,"l":-11,"v":-18},{"k":25,"l":-10,"v":-18},{"k":25,"l":-9,"v":-18.2},{"k":25,"l":-8,"v":-18.5},{"k":25,"l":-7,"v":-18.7},{"k":25,"l":-6,"v":-19},{"k":25,"l":-5,"v":-19.2},{"k":25,"l":-4,"v":-19.5},{"k":25,"l":-3,"v":-19.5},{"k":25,"l":-2,"v":-20},{"k":25,"l":-1,"v":-20.5},{"k":25,"l":0,"v":-20},{"k":25,"l":1,"v":-19.5},{"k":25,"l":2,"v":-19.5},{"k":25,"l":3,"v":-19.5},{"k":25,"l":4,"v":-20},{"k":25,"l":5,"v":-20.5},{"k":25,"l":6,"v":-21},{"k":25,"l":7,"v":-21.5},{"k":25,"l":8,"v":-22},{"k":25,"l":9,"v":-22.5},{"k":25,"l":10,"v":-23},{"k":25,"l":11,"v":-23.5},
{"k":25,"l":26,"v":-23.8},{"k":25,"l":27,"v":-23.4},{"k":25,"l":28,"v":-23},{"k":25,"l":29,"v":-22.8},{"k":25,"l":30,"v":-22.8},{"k":25,"l":31,"v":-22.5},{"k":25,"l":32,"v":-22.5},{"k":25,"l":33,"v":-22.4},{"k":25,"l":34,"v":-22.4},{"k":25,"l":35,"v":-22.3},{"k":25,"l":36,"v":-22},
{"k":27,"l":-19,"v":-23.8},{"k":27,"l":-18,"v":-23.7},{"k":27,"l":-17,"v":-23.7},{"k":27,"l":-16,"v":-23.7},{"k":27,"l":-15,"v":-23.7},{"k":27,"l":-14,"v":-23.8},
{"k":28,"l":-9,"v":-23.5},{"k":28,"l":-8,"v":-23},{"k":28,"l":-7,"v":-22.8},{"k":28,"l":-6,"v":-22.5},{"k":28,"l":-5,"v":-22},{"k":28,"l":-4,"v":-22},{"k":28,"l":-3,"v":-21.8},{"k":28,"l":-2,"v":-21.8},{"k":28,"l":-1,"v":-21.5},{"k":28,"l":0,"v":-21.5},{"k":28,"l":1,"v":-21.8},{"k":28,"l":2,"v":-22},{"k":28,"l":3,"v":-22},{"k":28,"l":4,"v":-22.2},{"k":28,"l":5,"v":-22.3},{"k":28,"l":6,"v":-22.5},{"k":28,"l":7,"v":-22.6},{"k":28,"l":8,"v":-23},{"k":28,"l":9,"v":-23.5},{"k":28,"l":10,"v":-23.7},
{"k":28,"l":25,"v":-23.5},{"k":28,"l":26,"v":-23},{"k":28,"l":27,"v":-22},{"k":28,"l":28,"v":-21.5},{"k":28,"l":29,"v":-20.5},{"k":28,"l":30,"v":-20},{"k":28,"l":31,"v":-19.5},{"k":28,"l":32,"v":-19.5},{"k":28,"l":33,"v":-19},{"k":28,"l":34,"v":-18.7},{"k":28,"l":35,"v":-18.5},{"k":28,"l":36,"v":-18}
]},
"mark":{"type":"rect","width":11.158,"height":11.123,"stroke":"#262626","strokeWidth":1},
"encoding":{
"x":{"field":"l","type":"quantitative","scale":{"domain":[-36.5,36.5],"nice":false,"zero":false},
"axis":{"title":"Doppler Domain(l)","values":[-36.5,-36,-35.5,-34.5,-33.5,-32.5,-31.5,-30.5,-29.5,-28.5,-27.5,-26.5,-26,-25.5,-24.5,-23.5,-22.5,-21.5,-20.5,-19.5,-18.5,-17.5,-16.5,-16,-15.5,-14.5,-13.5,-12.5,-11.5,-10.5,-9.5,-8.5,-7.5,-6.5,-6,-5.5,-4.5,-3.5,-2.5,-1.5,-0.5,0.5,1.5,2.5,3.5,4,4.5,5.5,6.5,7.5,8.5,9.5,10.5,11.5,12.5,13.5,14,14.5,15.5,16.5,17.5,18.5,19.5,20.5,21.5,22.5,23.5,24,24.5,25.5,26.5,27.5,28.5,29.5,30.5,31.5,32.5,33.5,34,34.5,35.5,36.5],
"labelExpr":"datum.value % 1 ? '' : '' + datum.value","labelAngle":270,"labelAlign":"right","labelBaseline":"middle","labelPadding":10,"labelOverlap":false,"labelFont":"Liberation Serif","labelFontSize":31,"labelColor":"#262626","titleFont":"Liberation Serif","titleFontSize":35,"titleFontWeight":"normal","titleColor":"#262626","titlePadding":2,"ticks":false,"domain":false,"grid":true,"gridColor":"#262626","gridWidth":1,"gridOpacity":{"condition":{"test":"datum.value % 1 == 0","value":0},"value":1}}},
"y":{"field":"k","type":"quantitative","scale":{"domain":[-30.5,30.5],"nice":false,"zero":false,"reverse":true},
"axis":{"title":"Delay Domain(k)","values":[-30.5,-30,-29.5,-28.5,-27.5,-26.5,-25.5,-24.5,-23.5,-22.5,-21.5,-20.5,-20,-19.5,-18.5,-17.5,-16.5,-15.5,-14.5,-13.5,-12.5,-11.5,-10.5,-10,-9.5,-8.5,-7.5,-6.5,-5.5,-4.5,-3.5,-2.5,-1.5,-0.5,0,0.5,1.5,2.5,3.5,4.5,5.5,6.5,7.5,8.5,9.5,10,10.5,11.5,12.5,13.5,14.5,15.5,16.5,17.5,18.5,19.5,20,20.5,21.5,22.5,23.5,24.5,25.5,26.5,27.5,28.5,29.5,30,30.5],
"labelExpr":"datum.value % 1 ? '' : '' + datum.value","labelPadding":8,"labelOffset":-1.5,"labelOverlap":false,"labelFont":"Liberation Serif","labelFontSize":31,"labelColor":"#262626","titleFont":"Liberation Serif","titleFontSize":35,"titleFontWeight":"normal","titleColor":"#262626","titlePadding":8,"ticks":false,"domain":false,"grid":true,"gridColor":"#262626","gridWidth":1,"gridOpacity":{"condition":{"test":"datum.value % 1 == 0","value":0},"value":1}}},
"color":{"field":"v","type":"quantitative","scale":{"domain":[-25,-24,-23,-21,-19.5,-17.5,-15,-13.5,-12,-10,-8.5,-6.5,-5,-3.5,-1.5,0],"range":["#3a24a3","#3b26a9","#4130c8","#4a52f8","#3575ff","#2b90ee","#1fa8e0","#00b8cc","#18bfb0","#44c88a","#78cc60","#b8c130","#d8b82a","#ffc038","#f5e020","#fbfb14"]},
"legend":{"title":null,"orient":"none","legendX":829,"legendY":0,"direction":"vertical","gradientLength":678,"gradientThickness":33,"gradientStrokeColor":"#262626","gradientStrokeWidth":1.5,"values":[0,-5,-10,-15,-20,-25],"labelExpr":"'' + datum.value","labelFont":"Liberation Serif","labelFontSize":28,"labelColor":"#262626","labelOffset":7,"labelOverlap":false,"encoding":{"labels":{"baseline":{"value":"middle"}}}}}
},
"config":{"view":{"fill":"#3a24a3","stroke":"#262626","strokeWidth":1.5}}
}
